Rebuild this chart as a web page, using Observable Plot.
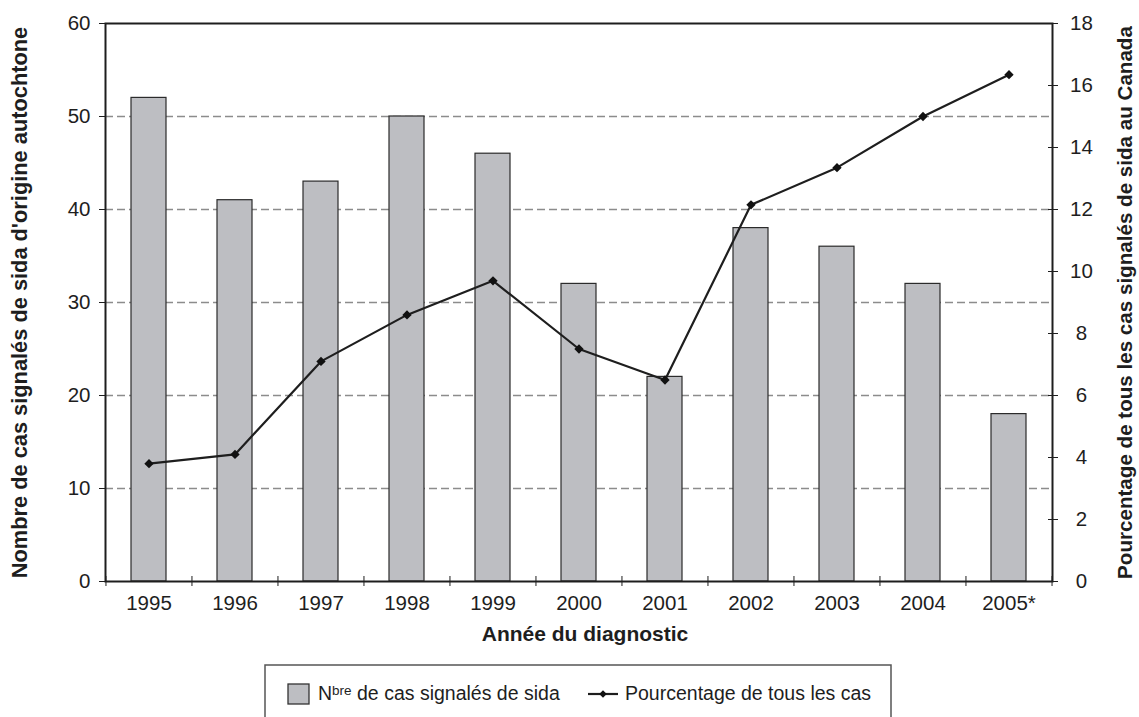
<!DOCTYPE html>
<html>
<head>
<meta charset="utf-8">
<script src="https://cdn.jsdelivr.net/npm/d3@7"></script>
<script src="https://cdn.jsdelivr.net/npm/@observablehq/plot@0.6"></script>
<style>
  body { margin: 0; background: #fff; }
  #wrap { position: relative; width: 1139px; height: 717px; overflow: hidden; background: #fff;
          font-family: "Liberation Sans", Arial, sans-serif; }
  #wrap > svg { position: absolute; left: 0; top: 0; }
  #legend { position: absolute; left: 0; top: 0; pointer-events: none; }
</style>
</head>
<body>
<div id="wrap"></div>
<script>
// ---- data ----
const years = ["1995", "1996", "1997", "1998", "1999", "2000", "2001", "2002", "2003", "2004", "2005*"];
const cases = [52, 41, 43, 50, 46, 32, 22, 38, 36, 32, 18];
const percent = [3.8, 4.1, 7.1, 8.6, 9.7, 7.5, 6.5, 12.15, 13.35, 15.0, 16.35];
const leftTicks = [0, 10, 20, 30, 40, 50, 60];
const rightTicks = [0, 2, 4, 6, 8, 10, 12, 14, 16, 18];
const gridValues = [10, 20, 30, 40, 50];
const leftTitle = "Nombre de cas signalés de sida d'origine autochtone";
const rightTitle = "Pourcentage de tous les cas signalés de sida au Canada";
const xTitle = "Année du diagnostic";
const legendBars = ["N", "bre", " de cas signalés de sida"];
const legendLine = "Pourcentage de tous les cas";

const data = years.map((year, i) => ({year, cases: cases[i], pct: percent[i]}));

// ---- layout ----
const W = 1139, H = 717, mL = 105, mR = 87, mT = 23, mB = 136;
const step = (W - mL - mR) / years.length;
const k = 60 / 18; // right axis (0-18) mapped onto left scale (0-60)
const font = "'Liberation Sans', Arial, sans-serif";
const ink = "#1e1e1e";

const chart = Plot.plot({
  width: W, height: H,
  marginLeft: mL, marginRight: mR, marginTop: mT, marginBottom: mB,
  style: {fontFamily: font, fontSize: "20px", color: ink, background: "#fff"},
  x: {domain: years, paddingInner: 0.593, paddingOuter: 0.2965},
  y: {domain: [0, 60]},
  marks: [
    Plot.gridY(gridValues, {stroke: "#8c8c8c", strokeOpacity: 1, strokeWidth: 1.3, strokeDasharray: "8 4"}),
    Plot.barY(data, {x: "year", y: "cases", fill: "#bdbec2", stroke: "#2b2b2b", strokeWidth: 1.2}),
    // x tick labels
    Plot.axisX({tickSize: 0, tickPadding: 14, fontSize: 20.5, label: null}),
    // x ticks between categories (crossing the axis)
    Plot.axisX({tickSize: 10, insetBottom: 5, fill: "none", stroke: ink, dx: -step / 2, label: null}),
    Plot.axisX([years[years.length - 1]], {tickSize: 10, insetBottom: 5, fill: "none", stroke: ink, dx: step / 2, label: null}),
    // left axis
    Plot.axisY(leftTicks, {anchor: "left", tickSize: 6, tickPadding: 9, fontSize: 20.5, stroke: ink, label: null}),
    // right axis (percent)
    Plot.axisY(rightTicks.map(v => v * k), {anchor: "right", tickSize: 10, insetRight: 5, fill: "none", stroke: ink, label: null}),
    Plot.axisY(rightTicks.map(v => v * k), {anchor: "right", tickSize: 0, tickPadding: 29, textAnchor: "middle", fontSize: 20.5,
      tickFormat: d => String(Math.round(d / k)), label: null}),
    Plot.frame({stroke: ink, strokeWidth: 2}),
    Plot.line(data, {x: "year", y: d => d.pct * k, stroke: ink, strokeWidth: 2.2}),
    Plot.dot(data, {x: "year", y: d => d.pct * k, symbol: "diamond2", r: 4.2, fill: "#111", stroke: "none"}),
    // axis titles
    Plot.text([leftTitle], {text: d => d, frameAnchor: "left", dx: -85, rotate: -90, textAnchor: "middle", lineAnchor: "middle",
      fontWeight: "bold", fontSize: 21.8, fill: ink}),
    Plot.text([rightTitle], {text: d => d, frameAnchor: "right", dx: 73, rotate: -90, textAnchor: "middle", lineAnchor: "middle",
      fontWeight: "bold", fontSize: 20.6, fill: ink}),
    Plot.text([xTitle], {text: d => d, frameAnchor: "bottom", dy: 53, dx: 6, textAnchor: "middle", lineAnchor: "middle",
      fontWeight: "bold", fontSize: 21, fill: ink})
  ]
});

const wrap = document.getElementById("wrap");
wrap.appendChild(chart);

// ---- legend (below the plot) ----
const lg = d3.select(wrap).append("svg")
  .attr("id", "legend").attr("width", W).attr("height", H)
  .style("font-family", font);
lg.append("rect").attr("x", 265).attr("y", 665).attr("width", 626).attr("height", 90)
  .attr("fill", "#fff").attr("stroke", "#555").attr("stroke-width", 1.5);
lg.append("rect").attr("x", 288).attr("y", 684).attr("width", 21).attr("height", 20)
  .attr("fill", "#bdbec2").attr("stroke", "#333").attr("stroke-width", 1.3);
const t1 = lg.append("text").attr("x", 318).attr("y", 700).attr("font-size", 19.5).attr("fill", ink);
t1.append("tspan").text(legendBars[0]);
t1.append("tspan").attr("font-size", 13.5).attr("dy", -5).text(legendBars[1]);
t1.append("tspan").attr("font-size", 19.5).attr("dy", 5).text(legendBars[2]);
lg.append("line").attr("x1", 588).attr("x2", 618).attr("y1", 694).attr("y2", 694)
  .attr("stroke", ink).attr("stroke-width", 2.2);
lg.append("path").attr("d", d3.symbol(d3.symbolDiamond2, 36)()).attr("transform", "translate(603,694)").attr("fill", "#111");
lg.append("text").attr("x", 625).attr("y", 700).attr("font-size", 19.5).attr("fill", ink).text(legendLine);
</script>
</body>
</html>
